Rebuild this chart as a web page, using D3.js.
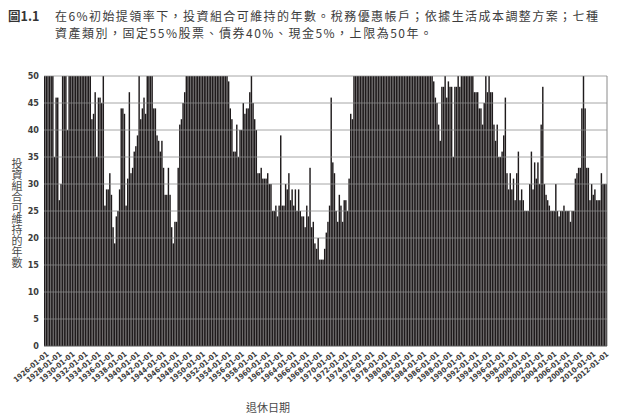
<!DOCTYPE html>
<html>
<head>
<meta charset="utf-8">
<script src="https://cdn.jsdelivr.net/npm/d3@7"></script>
<style>
  body { margin: 0; background: #fff; }
  svg { display: block; }
  .tick text { font-family: "Liberation Sans Narrow", "DejaVu Sans Condensed", sans-serif; font-weight: bold; fill: #3c3c3c; }
</style>
</head>
<body>
<div id="chart"></div>
<script>
// years the portfolio lasted, one value per quarter, 1926 Q1 .. 2012 Q2
var startYear = 1926;
var quarterValues = [
  50,50,50,50, 50,50,35,46, 46,27,30,50, 50,50,40,50, // 1926-1929
  50,50,50,50, 50,50,50,50, 50,50,50,50, 50,42,43,47, // 1930-1933
  35,46,46,45, 50,26,29,29, 32,28,22,19, 24,25,29,44, // 1934-1937
  44,43,26,31, 47,32,33,36, 37,39,50,42, 44,46,43,50, // 1938-1941
  50,50,50,44, 44,39,38,36, 38,33,28,28, 33,28,22,19, // 1942-1945
  23,23,33,41, 42,45,47,50, 50,50,50,50, 50,50,50,50, // 1946-1949
  50,50,50,50, 50,50,50,50, 50,50,50,50, 50,50,50,50, // 1950-1953
  50,49,44,42, 36,36,41,35, 40,40,45,43, 44,44,47,50, // 1954-1957
  45,42,40,32, 32,33,31,31, 31,32,30,30, 25,25,26,24, // 1958-1961
  26,39,26,26, 30,29,32,27, 29,26,29,25, 29,25,24,24, // 1962-1965
  22,26,24,33, 22,23,19,18, 20,16,16,16, 18,21,23,26, // 1966-1969
  46,34,32,25, 23,28,26,23, 27,27,25,31, 43,42,50,50, // 1970-1973
  50,50,50,50, 50,50,50,50, 50,50,50,50, 50,50,50,50, // 1974-1977
  50,50,50,50, 50,50,50,50, 50,50,50,50, 50,50,50,50, // 1978-1981
  50,50,50,50, 50,50,50,50, 50,50,50,50, 50,50,50,49, // 1982-1985
  46,45,41,38, 48,48,50,46, 49,48,48,35, 48,48,50,48, // 1986-1989
  50,50,50,50, 50,50,50,50, 47,47,47,44, 44,41,45,50, // 1990-1993
  47,50,47,47, 41,38,41,35, 35,36,39,46, 32,29,32,29, // 1994-1997
  31,27,32,36, 27,29,27,25, 25,25,30,36, 29,34,31,34, // 1998-2001
  30,41,48,30, 28,27,26,25, 25,25,30,25, 24,25,25,26, // 2002-2005
  25,25,25,23, 25,25,31,32, 33,33,44,50, 44,33,33,27, // 2006-2009
  30,28,29,27, 27,27,32,30, 30,30                     // 2010-2012
];
var yTicks = [0,5,10,15,20,25,30,35,40,45,50];
var labelEvery = 2; // years between date labels

var titleTag = "圖1.1";
var titleLines = [
  "在6%初始提領率下，投資組合可維持的年數。稅務優惠帳戶；依據生活成本調整方案；七種",
  "資產類別，固定55%股票、債券40%、現金5%，上限為50年。"
];
var yTitle = "投資組合可維持的年數";
var xTitle = "退休日期";

function pad(n){ return n < 10 ? "0"+n : ""+n; }

var data = quarterValues.map(function(v,i){
  var yr = startYear + Math.floor(i/4);
  return {date: yr + "-" + pad((i%4)*3+1) + "-01", year: yr, q: i%4, value: v};
});

var W = 620, H = 419;
var margin = {top: 76, right: 13, bottom: 73, left: 44};
var w = W - margin.left - margin.right,
    h = H - margin.top - margin.bottom;

var svg = d3.select("#chart").append("svg")
  .attr("width", W).attr("height", H);

var x = d3.scaleBand()
  .domain(data.map(function(d){ return d.date; }))
  .range([0, w])
  .paddingInner(0.12)
  .paddingOuter(0);

var y = d3.scaleLinear().domain([0,50]).range([h,0]);

var g = svg.append("g").attr("transform","translate("+margin.left+","+margin.top+")");

// bars
g.selectAll(".bar")
  .data(data)
  .enter().append("rect")
  .attr("class","bar")
  .attr("x", function(d){ return x(d.date); })
  .attr("width", x.bandwidth())
  .attr("y", function(d){ return y(d.value); })
  .attr("height", function(d){ return h - y(d.value); })
  .style("fill","#1f1b1c");

// grid over the bars
g.selectAll(".grid")
  .data(yTicks.filter(function(t){ return t > 0; }))
  .enter().append("line")
  .attr("x1",0).attr("x2",w)
  .attr("y1",function(d){ return y(d); })
  .attr("y2",function(d){ return y(d); })
  .style("stroke","#8a8a8a")
  .style("stroke-width",1)
  .style("opacity",0.75);

g.append("line").attr("x1",w).attr("x2",w).attr("y1",0).attr("y2",h)
  .style("stroke","#8a8a8a");
g.append("line").attr("x1",0).attr("x2",w).attr("y1",h).attr("y2",h)
  .style("stroke","#555");

// y axis
var yAxis = g.append("g")
  .call(d3.axisLeft(y).tickValues(yTicks).tickSize(0).tickPadding(5));
yAxis.select(".domain").remove();
yAxis.selectAll("text").style("font-size","9px");

// x axis
var tickDates = data.filter(function(d){ return d.q === 0 && (d.year - startYear) % labelEvery === 0; })
  .map(function(d){ return d.date; });
var xAxis = g.append("g")
  .attr("transform","translate(0,"+h+")")
  .call(d3.axisBottom(x).tickValues(tickDates).tickSize(0));
xAxis.select(".domain").remove();
xAxis.selectAll("text")
  .style("font-size","7.5px")
  .style("text-anchor","end")
  .attr("dx","-0.3em")
  .attr("dy","0.9em")
  .attr("transform","rotate(-40)");

// titles
var head = svg.append("g").style("font-family","'Noto Sans CJK TC', sans-serif");
head.append("text").attr("x",8).attr("y",21)
  .style("font-size","12.5px").style("font-weight","bold").style("fill","#333")
  .text(titleTag);
head.selectAll(".tl")
  .data(titleLines)
  .enter().append("text")
  .attr("class","tl")
  .attr("x",55)
  .attr("y",function(d,i){ return 21 + i*17; })
  .attr("textLength",function(d,i){ return i === 0 ? 543 : 377; })
  .attr("lengthAdjust","spacing")
  .style("font-size","12px").style("fill","#3c3c3c")
  .text(function(d){ return d; });

// vertical axis title, characters stacked upright
svg.append("text")
  .attr("x",17).attr("y",213)
  .attr("text-anchor","middle")
  .style("writing-mode","vertical-rl")
  .style("text-orientation","upright")
  .style("font-family","'Noto Sans CJK TC', sans-serif")
  .style("font-size","11px").style("fill","#4a4a4a")
  .text(yTitle);

svg.append("text")
  .attr("x",268).attr("y",412)
  .attr("text-anchor","middle")
  .style("font-family","'Noto Sans CJK TC', sans-serif")
  .style("font-size","11px").style("fill","#4a4a4a")
  .text(xTitle);
</script>
</body>
</html>
